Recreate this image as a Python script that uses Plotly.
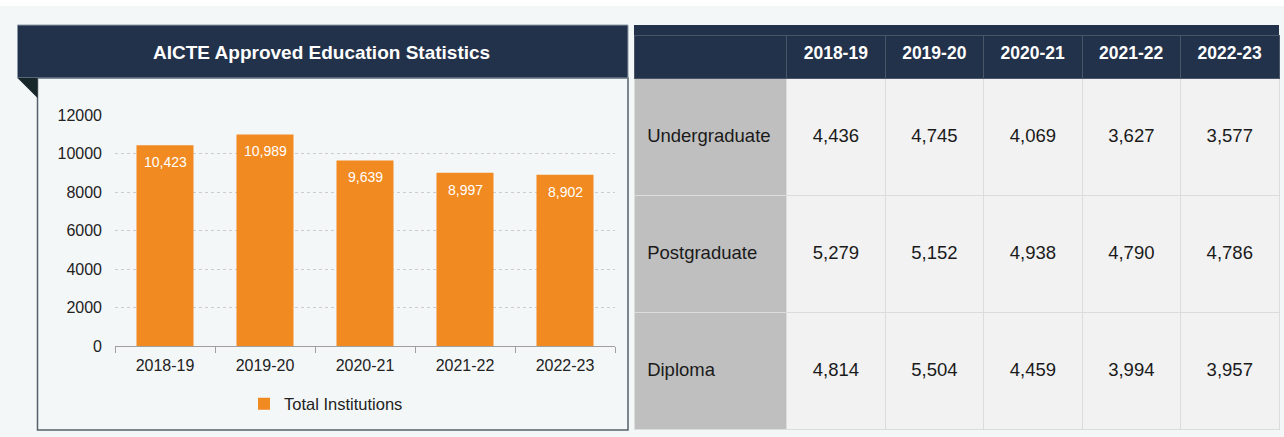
import plotly.graph_objects as go

years = ["2018-19", "2019-20", "2020-21", "2021-22", "2022-23"]
total_institutions = [10423, 10989, 9639, 8997, 8902]
row_labels = ["Undergraduate", "Postgraduate", "Diploma"]
undergraduate = [4436, 4745, 4069, 3627, 3577]
postgraduate = [5279, 5152, 4938, 4790, 4786]
diploma = [4814, 5504, 4459, 3994, 3957]

W, H = 1284, 437
NAVY = "#22324a"
ORANGE = "#f28a22"
BG = "#f4f7f8"
FONT = "Liberation Sans, Arial, sans-serif"

def px(x):
    return x / W

def py(y):
    return 1 - y / H

fig = go.Figure()

fig.add_trace(go.Bar(
    x=years, y=total_institutions, name="Total Institutions",
    marker=dict(color=ORANGE, line=dict(width=0)),
    showlegend=True,
))

fmt = lambda v: f"{v:,}"
pad = "\u00a0<br>\u00a0<br>"
big = lambda s: f"<span style='font-size:18.5px'>{s}</span>"
cols = [[pad + big("\u00a0" + r) for r in row_labels]] + [
    [pad + big(fmt(undergraduate[i])), pad + big(fmt(postgraduate[i])), pad + big(fmt(diploma[i]))]
    for i in range(len(years))
]

HEADER_TOP = 35  # table domain starts lower; navy strip above via shape
fig.add_trace(go.Table(
    domain=dict(x=[px(634), px(1279)], y=[py(430), py(HEADER_TOP)]),
    columnwidth=[152] + [98] * len(years),
    header=dict(
        values=[""] + [f"<b>{y}</b>" for y in years],
        fill_color=NAVY, font=dict(color="white", size=17.5, family=FONT),
        align="center", height=78 - HEADER_TOP, line=dict(color="#4a5568", width=1),
    ),
    cells=dict(
        values=cols,
        fill_color=[["#bfbfbf"] * 3] + [["#f2f2f2"] * 3] * len(years),
        font=dict(color="#1a1a1a", size=16, family=FONT),
        align=["left"] + ["center"] * len(years),
        height=117, line=dict(color="#dcdcdc", width=1),
    ),
))

shapes = [
    dict(type="rect", xref="paper", yref="paper", x0=0, x1=1, y0=py(6), y1=1,
         fillcolor="white", line=dict(width=0), layer="below"),
    dict(type="rect", xref="paper", yref="paper", x0=px(37.5), x1=px(628), y0=py(430), y1=py(78),
         fillcolor=BG, line=dict(color="#55606a", width=1.5), layer="below"),
    dict(type="rect", xref="paper", yref="paper", x0=px(17.5), x1=px(628), y0=py(78), y1=py(25),
         fillcolor=NAVY, line=dict(color="#8a9aa6", width=1), layer="below"),
    dict(type="path", xref="paper", yref="paper",
         path=f"M {px(17.5)},{py(78)} L {px(37.5)},{py(78)} L {px(37.5)},{py(98)} Z",
         fillcolor="#172628", line=dict(width=0), layer="below"),
    dict(type="rect", xref="paper", yref="paper", x0=px(634), x1=px(1279), y0=py(HEADER_TOP + 1), y1=py(25),
         fillcolor=NAVY, line=dict(width=0), layer="below"),
]

annotations = [dict(text="<b>AICTE Approved Education Statistics</b>", xref="paper", yref="paper",
                    x=px(322), y=py(52), xanchor="center", yanchor="middle", showarrow=False,
                    font=dict(color="white", size=19, family=FONT))]
for yr, v in zip(years, total_institutions):
    annotations.append(dict(text=f"{v:,}", xref="x", yref="y", x=yr, y=v,
                            xanchor="center", yanchor="middle", yshift=-17, showarrow=False,
                            font=dict(color="white", size=14, family=FONT)))

fig.update_layout(
    width=W, height=H,
    margin=dict(l=0, r=0, t=0, b=0, pad=0, autoexpand=False),
    paper_bgcolor=BG, plot_bgcolor="rgba(0,0,0,0)",
    font=dict(family=FONT, size=16, color="#222222"),
    shapes=shapes,
    bargap=0.43,
    xaxis=dict(domain=[px(115), px(615)], showline=True, linecolor="#a0a0a0", linewidth=1,
               ticks="outside", tickson="boundaries", ticklen=6, tickcolor="#a0a0a0",
               tickfont=dict(size=16, color="#222222"), showgrid=False,
               ticklabelstandoff=5, automargin=False),
    yaxis=dict(domain=[py(346), py(115)], range=[0, 12000], dtick=2000, tickformat="d",
               showgrid=True, gridcolor="#cccccc", griddash="dot", gridwidth=1,
               zeroline=False, tickfont=dict(size=16, color="#222222"), ticks="",
               ticklabelstandoff=12, automargin=False),
    legend=dict(orientation="h", x=px(244), xanchor="left", y=py(404), yanchor="middle",
                bgcolor="rgba(0,0,0,0)", font=dict(size=16.5, color="#222222"),
                itemwidth=30),
    annotations=annotations,
)

fig.write_html("out.html", config={"displayModeBar": False},
               post_script="document.body.style.margin='0';document.body.style.overflow='hidden';")
